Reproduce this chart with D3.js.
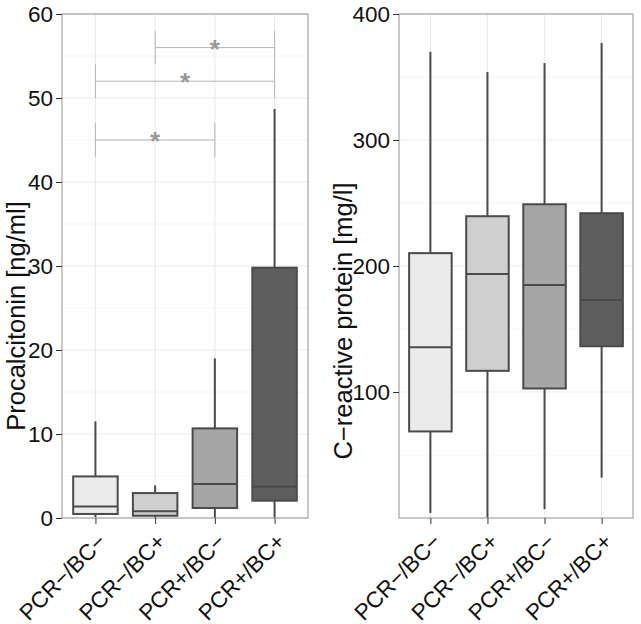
<!DOCTYPE html>
<html><head><meta charset="utf-8">
<script src="https://cdn.jsdelivr.net/npm/d3@7"></script>
<style>body{margin:0;background:#fff} text{font-family:"Liberation Sans",Arial,Helvetica,sans-serif}</style>
</head><body><svg id="c" width="641" height="624"></svg>
<script>
const categories = ["PCR−/BC−","PCR−/BC+","PCR+/BC−","PCR+/BC+"];
// Procalcitonin box stats
const pctWhiskerLow  = [0.05, 0, 0, 0];
const pctQ1          = [0.48, 0.27, 1.19, 2.06];
const pctMedian      = [1.38, 0.79, 4.05, 3.73];
const pctQ3          = [4.95, 2.97, 10.67, 29.8];
const pctWhiskerHigh = [11.5, 3.88, 19.0, 48.7];
const pctTicks = [0,10,20,30,40,50,60];
const pctMinor = [5,15,25,35,45,55];
// C-reactive protein box stats
const crpWhiskerLow  = [4, 0, 7, 32];
const crpQ1          = [68.7, 116.8, 102.8, 136.3];
const crpMedian      = [135.5, 193.6, 184.9, 173];
const crpQ3          = [210.2, 239.5, 249, 241.9];
const crpWhiskerHigh = [370, 354, 361, 377];
const crpTicks = [100,200,300,400];
const crpMinor = [50,150,250,350];
// significance brackets (procalcitonin)
const sigFrom = [0, 0, 1];
const sigTo   = [2, 3, 3];
const sigY    = [45, 52, 56];
const sigLabel = ["*","*","*"];

const fills = ["#ebebeb","#cfcfcf","#a6a6a6","#5e5e5e"];
const svg = d3.select("#c");
const axisFs = 22.5;

function panel(o){
  const g = svg.append("g");
  const x = d3.scalePoint().domain(categories).range([o.x0,o.x1]).padding(o.pad);
  const y = d3.scaleLinear().domain(o.domain).range([o.y1,o.y0]);
  const step = x.step();
  const bw = step*0.745;
  // grid
  g.selectAll(".mn").data(o.minor).join("line")
    .attr("x1",o.x0).attr("x2",o.x1).attr("y1",d=>y(d)).attr("y2",d=>y(d))
    .attr("stroke","#f4f4f4").attr("stroke-width",1);
  g.selectAll(".mj").data(o.ticks).join("line")
    .attr("x1",o.x0).attr("x2",o.x1).attr("y1",d=>y(d)).attr("y2",d=>y(d))
    .attr("stroke","#ebebeb").attr("stroke-width",1.2);
  g.selectAll(".vg").data(categories).join("line")
    .attr("x1",d=>x(d)).attr("x2",d=>x(d)).attr("y1",o.y0).attr("y2",o.y1)
    .attr("stroke","#ebebeb").attr("stroke-width",1.2);
  // brackets
  if(o.sig){
    o.sig.from.forEach((f,i)=>{
      const xa=x(categories[f]), xb=x(categories[o.sig.to[i]]), yy=y(o.sig.y[i]);
      const st="#b5b5b5";
      g.append("line").attr("x1",xa).attr("x2",xb).attr("y1",yy).attr("y2",yy).attr("stroke",st).attr("stroke-width",1);
      [xa,xb].forEach(xx=>g.append("line").attr("x1",xx).attr("x2",xx)
        .attr("y1",y(o.sig.y[i]+2)).attr("y2",y(o.sig.y[i]-2)).attr("stroke",st).attr("stroke-width",1));
      g.append("text").attr("x",(xa+xb)/2).attr("y",yy+10).attr("text-anchor","middle")
        .attr("font-size",26).attr("font-weight","bold").attr("fill","#9a9a9a").text(o.sig.label[i]);
    });
  }
  // boxes
  const sc="#4a4a4a";
  categories.forEach((c,i)=>{
    const cx=x(c);
    g.append("line").attr("x1",cx).attr("x2",cx).attr("y1",y(o.lo[i])).attr("y2",y(o.q1[i])).attr("stroke",sc).attr("stroke-width",2);
    g.append("line").attr("x1",cx).attr("x2",cx).attr("y1",y(o.q3[i])).attr("y2",y(o.hi[i])).attr("stroke",sc).attr("stroke-width",2);
    g.append("rect").attr("x",cx-bw/2).attr("width",bw).attr("y",y(o.q3[i])).attr("height",y(o.q1[i])-y(o.q3[i]))
      .attr("fill",fills[i]).attr("stroke",sc).attr("stroke-width",2);
    g.append("line").attr("x1",cx-bw/2).attr("x2",cx+bw/2).attr("y1",y(o.med[i])).attr("y2",y(o.med[i])).attr("stroke",sc).attr("stroke-width",2);
  });
  // border
  g.append("rect").attr("x",o.x0).attr("y",o.y0).attr("width",o.x1-o.x0).attr("height",o.y1-o.y0)
    .attr("fill","none").attr("stroke","#a3a3a3").attr("stroke-width",1.2);
  // y axis
  const ya = d3.axisLeft(y).tickValues(o.ticks).tickSize(6).tickPadding(3).tickFormat(d3.format("d"));
  const yg = g.append("g").attr("transform",`translate(${o.x0},0)`).call(ya);
  yg.select(".domain").remove();
  yg.selectAll(".tick line").attr("stroke","#333");
  yg.selectAll(".tick text").attr("font-size",axisFs).attr("fill","#111").attr("font-family",null);
  // x axis
  const xa = d3.axisBottom(x).tickSize(6).tickFormat("");
  const xg = g.append("g").attr("transform",`translate(0,${o.y1})`).call(xa);
  xg.select(".domain").remove();
  xg.selectAll(".tick line").attr("stroke","#333");
  g.selectAll(".xl").data(categories).join("text")
    .attr("transform",d=>`translate(${x(d)+12},${o.y1+25}) rotate(-45)`)
    .attr("text-anchor","end").attr("font-size",axisFs).attr("fill","#111").text(d=>d);
  // y title
  g.append("text").attr("transform",`translate(${o.tx},${o.ty}) rotate(-90)`)
    .attr("text-anchor","middle").attr("font-size",o.tfs).attr("fill","#111").text(o.title);
}

panel({x0:62,x1:308,y0:14,y1:518,pad:0.56,domain:[0,60],ticks:pctTicks,minor:pctMinor,
  lo:pctWhiskerLow,q1:pctQ1,med:pctMedian,q3:pctQ3,hi:pctWhiskerHigh,
  sig:{from:sigFrom,to:sigTo,y:sigY,label:sigLabel},
  title:"Procalcitonin [ng/ml]",tx:25,ty:316,tfs:25.5});
panel({x0:399,x1:633,y0:14,y1:518,pad:0.55,domain:[0,400],ticks:crpTicks,minor:crpMinor,
  lo:crpWhiskerLow,q1:crpQ1,med:crpMedian,q3:crpQ3,hi:crpWhiskerHigh,
  title:"C−reactive protein [mg/l]",tx:352,ty:321,tfs:25.5});
</script></body></html>
